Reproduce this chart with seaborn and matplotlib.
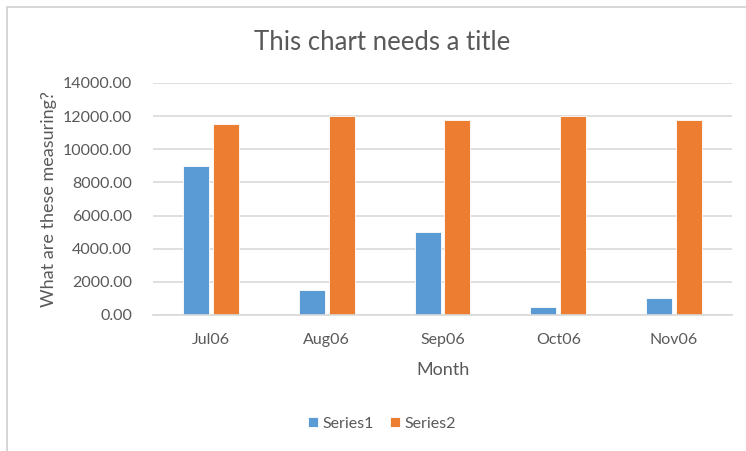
import matplotlib
matplotlib.use("Agg")
import matplotlib.pyplot as plt
import seaborn as sns
import pandas as pd
from matplotlib.patches import Rectangle
from matplotlib.ticker import FuncFormatter

months = ["Jul06", "Aug06", "Sep06", "Oct06", "Nov06"]
series1 = [9000, 1500, 5000, 500, 1000]
series2 = [11500, 12000, 11750, 12000, 11750]
series_names = ["Series1", "Series2"]
y_ticks = [0, 2000, 4000, 6000, 8000, 10000, 12000, 14000]

df = pd.DataFrame({
    "Month": months * 2,
    "Value": series1 + series2,
    "Series": [series_names[0]] * len(months) + [series_names[1]] * len(months),
})

sns.set_theme(style="white")
plt.rcParams["font.family"] = ["Lato", "DejaVu Sans"]
txt = "#595959"
grid = "#d9d9d9"

fig = plt.figure(figsize=(7.46, 4.51), dpi=100)
ax = fig.add_axes([153/746, 1 - 315/451, (732 - 153)/746, (315 - 83)/451])

sns.barplot(data=df, x="Month", y="Value", hue="Series", order=months,
            hue_order=series_names, palette=["#5B9BD5", "#ED7D31"], saturation=1,
            width=0.515, gap=0.13, ax=ax, edgecolor="white", linewidth=0.6,
            legend=True)

ax.set_ylim(0, 14000)
ax.set_xlim(-0.5, len(months) - 0.5)
ax.set_yticks(y_ticks)
ax.yaxis.set_major_formatter(FuncFormatter(lambda v, p: f"{v:.2f}"))
ax.set_axisbelow(True)
ax.yaxis.grid(True, color=grid, linewidth=1.2)
ax.xaxis.grid(False)
for s in ["top", "right", "left"]:
    ax.spines[s].set_visible(False)
ax.spines["bottom"].set_color(grid)
ax.spines["bottom"].set_linewidth(1.2)
ax.tick_params(axis="both", length=0, colors=txt, labelsize=11.5)
ax.tick_params(axis="x", pad=13)
ax.tick_params(axis="y", pad=15)
ax.set_xlabel("Month", color=txt, fontsize=13, labelpad=11)
ax.set_ylabel("What are these measuring?", color=txt, fontsize=13, labelpad=4)

fig.text(382/746, 1 - 43/451, "This chart needs a title", ha="center", va="center",
         fontsize=18.5, color=txt)

handles, labels = ax.get_legend_handles_labels()
ax.legend_.remove()
fig.legend(handles, labels, loc="center", bbox_to_anchor=(382/746, 1 - 424/451),
           ncol=2, frameon=False, fontsize=11.5, handlelength=0.6, handleheight=0.6,
           handletextpad=0.3, columnspacing=1.0, labelcolor=txt)

fig.patches.append(Rectangle((7/746, -0.1), 2, 1.1 - 7/451, transform=fig.transFigure,
                             fill=False, edgecolor="#d0d0d0", linewidth=1.2))

fig.savefig("out.png", dpi=100)
